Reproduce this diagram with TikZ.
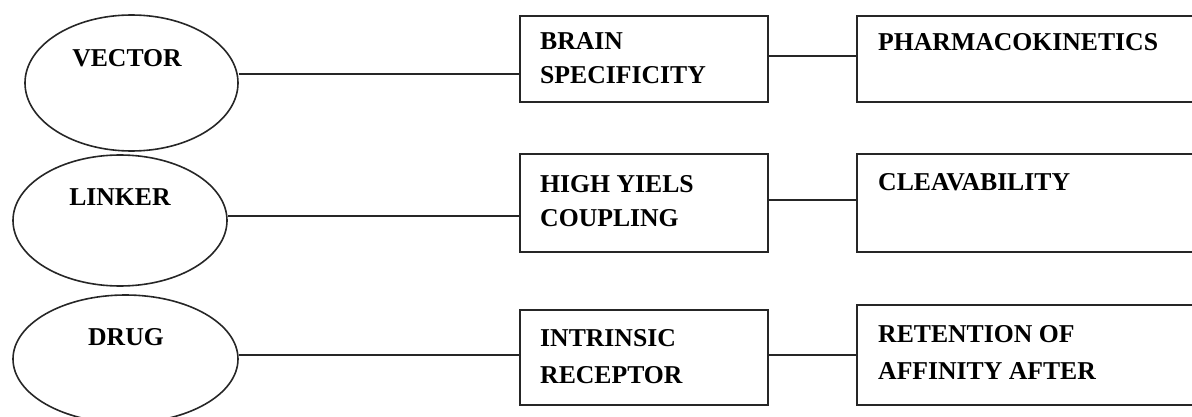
\documentclass[tikz,border=0pt]{standalone}
\usepackage{fontspec}
\setmainfont{Liberation Serif}
\usetikzlibrary{shapes.geometric}
\begin{document}
\begin{tikzpicture}[x=1pt,y=-1pt,
  oval/.style={draw=black!85, ellipse, line width=1.6pt, inner sep=0pt},
  box/.style={draw=black!85, rectangle, line width=1.6pt, inner sep=0pt},
  link/.style={draw=black!85, line width=1.6pt},
  txt/.style={font=\fontsize{25.7}{34}\selectfont\bfseries, inner sep=0pt},
  lbl/.style={txt, align=left, anchor=base west}]
\useasboundingbox (0,0) rectangle (1192,417);

% ovals on the left
\node[oval, minimum width=213pt, minimum height=136pt] (e1) at (131.5,83) {};
\node[oval, minimum width=214pt, minimum height=131pt] (e2) at (120,220.5) {};
\node[oval, minimum width=225pt, minimum height=128pt] (e3) at (125.5,359) {};
\node[txt, anchor=base] (t1) at (127,67) {VECTOR};
\node[txt, anchor=base] (t2) at (120,205) {LINKER};
\node[txt, anchor=base] (t3) at (126,345) {DRUG};

% property boxes
\node[box, minimum width=248pt, minimum height=86pt] (b11) at (644,59) {};
\node[box, minimum width=343pt, minimum height=86pt] (b12) at (1028.5,59) {};
\node[box, minimum width=248pt, minimum height=98pt] (b21) at (644,203) {};
\node[box, minimum width=343pt, minimum height=98pt] (b22) at (1028.5,203) {};
\node[box, minimum width=248pt, minimum height=95pt] (b31) at (644,357.5) {};
\node[box, minimum width=343pt, minimum height=100pt] (b32) at (1028.5,355) {};

% labels, placed by the baseline of their last line
\node[lbl] (l11) at (540,84) {BRAIN\\SPECIFICITY};
\node[lbl] (l12) at (878,50.5) {PHARMACOKINETICS};
\node[lbl] (l21) at (540,226) {HIGH YIELS\\COUPLING};
\node[lbl] (l22) at (878,190) {CLEAVABILITY};
\node[lbl] (l31) at (540,383) {INTRINSIC\\[3pt]RECEPTOR};
\node[lbl] (l32) at (878,379) {RETENTION OF\\[3pt]AFFINITY AFTER};

% connectors
\draw[link] (e1.east |- 0,74) -- (b11.west |- 0,74);
\draw[link] (b11.east |- 0,56) -- (b12.west |- 0,56);
\draw[link] (e2.east |- 0,216) -- (b21.west |- 0,216);
\draw[link] (b21.east |- 0,200) -- (b22.west |- 0,200);
\draw[link] (e3.east |- 0,355) -- (b31.west |- 0,355);
\draw[link] (b31.east |- 0,355) -- (b32.west |- 0,355);
\end{tikzpicture}
\end{document}
